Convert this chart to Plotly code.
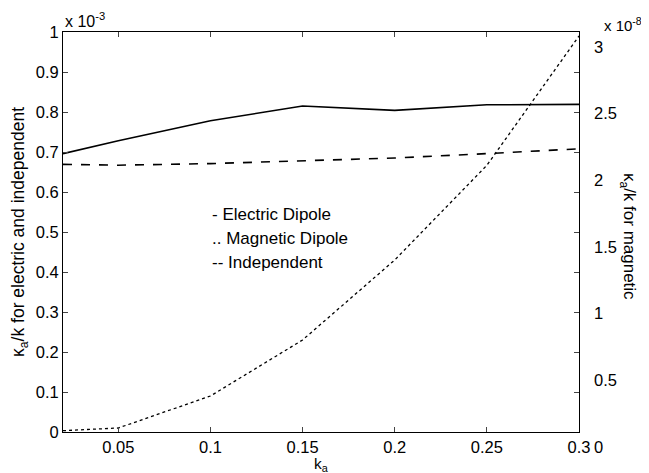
import plotly.graph_objects as go

# data (left values in units of 1e-3, right values in units of 1e-8)
ka = [0.02, 0.05, 0.10, 0.15, 0.20, 0.25, 0.30]
electric = [0.696, 0.728, 0.778, 0.815, 0.804, 0.818, 0.819]
independent = [0.669, 0.667, 0.671, 0.678, 0.685, 0.696, 0.708]
magnetic = [0.01, 0.03, 0.27, 0.69, 1.29, 2.00, 2.97]

legend_labels = ["- Electric Dipole", ".. Magnetic Dipole", "-- Independent"]

FONT = "Liberation Sans, Arial, Helvetica, sans-serif"

# the page body has an 8px margin, so the figure is sized to fit the window
fig = go.Figure()
fig.add_trace(go.Scatter(x=ka, y=electric, mode="lines", name="Electric Dipole",
                         line=dict(color="black", width=1.6, dash="solid")))
fig.add_trace(go.Scatter(x=ka, y=independent, mode="lines", name="Independent",
                         line=dict(color="black", width=1.6, dash="dash")))
fig.add_trace(go.Scatter(x=ka, y=magnetic, mode="lines", name="Magnetic Dipole",
                         yaxis="y2", line=dict(color="black", width=1.3, dash="dot")))

fig.update_layout(
    width=641, height=465,
    margin=dict(l=55, r=70, t=24, b=41),
    paper_bgcolor="white", plot_bgcolor="white",
    showlegend=False,
    font=dict(family=FONT, size=16.5, color="black"),
    xaxis=dict(range=[0.02, 0.3], tick0=0, dtick=0.05, ticks="inside", ticklen=5,
               showline=True, linecolor="black", linewidth=1, mirror="ticks",
               showgrid=False, zeroline=False, ticklabelstandoff=0,
               automargin=False),
    yaxis=dict(range=[0, 1], tick0=0, dtick=0.1, ticks="inside", ticklen=5,
               showline=True, linecolor="black", linewidth=1, mirror="ticks",
               showgrid=False, zeroline=False, automargin=False,
               title=dict(text="κ<sub>a</sub>/k for electric and independent",
                          font=dict(size=17.5), standoff=6)),
    yaxis2=dict(range=[0, 3], tick0=0, dtick=0.5, overlaying="y", side="right",
                ticks="", showline=False, showgrid=False, zeroline=False,
                automargin=False,
                ticklabelshift=15, ticklabelstandoff=14, ticklabeloverflow="allow"),
)

annotations = [
    dict(text="k<sub>a</sub>", xref="paper", yref="paper", x=0.5,
         y=(431.7 - 454) / 400, xanchor="center", yanchor="top",
         showarrow=False, font=dict(size=15.5), borderpad=0),
    dict(text="x 10<sup>-3</sup>", xref="paper", yref="paper", x=0, y=1,
         xanchor="left", yanchor="bottom", yshift=0, showarrow=False,
         font=dict(size=16)),
    dict(text="x 10<sup>-8</sup>", xref="paper", yref="paper", x=(602 - 63) / 516, y=1,
         xanchor="left", yanchor="middle", yshift=8, showarrow=False,
         font=dict(size=15)),
    dict(text="κ<sub>a</sub>/k for magnetic", xref="paper", yref="paper",
         x=(628 - 63) / 516, y=0.49, textangle=90, showarrow=False,
         xanchor="center", yanchor="middle", font=dict(size=17)),
]
leg_y = [214, 238, 262]
for lbl, yp in zip(legend_labels, leg_y):
    annotations.append(dict(text=lbl, xref="paper", yref="paper",
                            x=(210 - 63) / 516, y=(431.7 - yp) / 400,
                            xanchor="left", yanchor="middle", showarrow=False,
                            font=dict(size=17)))
fig.update_layout(annotations=annotations)

fig.write_html("out.html")
